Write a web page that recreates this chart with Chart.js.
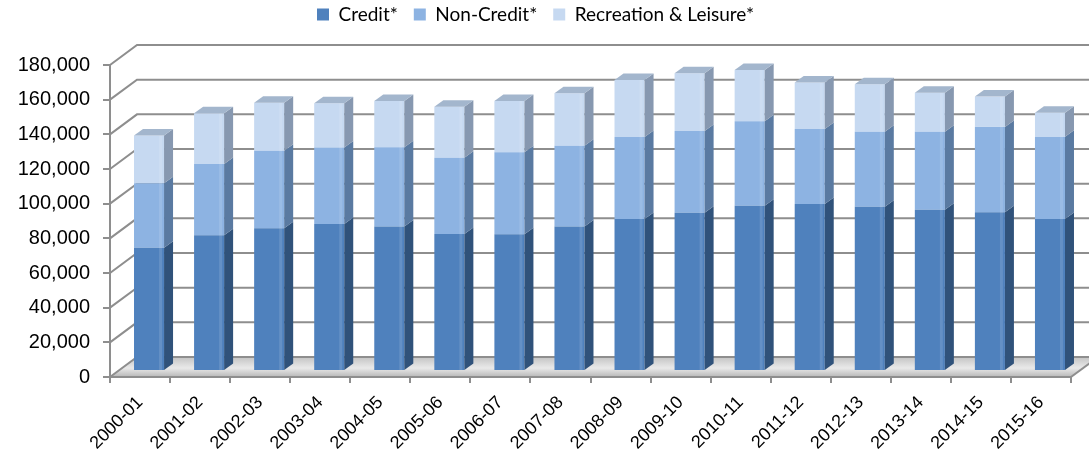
<!DOCTYPE html>
<html>
<head>
<meta charset="utf-8">
<script src="https://cdn.jsdelivr.net/npm/chart.js@4.4.1/dist/chart.umd.min.js"></script>
<style>
  html, body { margin: 0; padding: 0; background: #fff; }
  #wrap { width: 1089px; height: 451px; }
</style>
</head>
<body>
<div id="wrap"><canvas id="enrollChart"></canvas></div>
<script>
// Enrollment by year
const years = ['2000-01', '2001-02', '2002-03', '2003-04', '2004-05', '2005-06', '2006-07', '2007-08',
               '2008-09', '2009-10', '2010-11', '2011-12', '2012-13', '2013-14', '2014-15', '2015-16'];
const credit     = [71100, 78300, 82300, 84800, 83300, 79100, 78900, 83300, 87700, 91300, 95400, 96400, 94800, 93100, 91600, 87700];
const nonCredit  = [37200, 41100, 44800, 44100, 45800, 44000, 47300, 46700, 47300, 47200, 48700, 43200, 43300, 45000, 49200, 47500];
const recreation = [27500, 29300, 27700, 25600, 26700, 29400, 29600, 30200, 32900, 33300, 29600, 26800, 27300, 22500, 17500, 13800];
const yTicks = [0, 20000, 40000, 60000, 80000, 100000, 120000, 140000, 160000, 180000];

// 3D look
const wallShift = { dx: 27, dy: -20 };   // back wall sits up and right of the front axis
const barShift = { dx: 9, dy: -6 };      // columns stand a bit behind the front edge
const barDepth = { dx: 9, dy: -6.5 };    // thickness of a column
const frontColors = ['#4f81bd', '#8db3e2', '#c6d9f1'];
const sideColors = ['#30527a', '#5a7aa1', '#8798b0'];
const capColor = '#a3b6cd';
const lineGrey = '#8e8e8e';

const box3d = {
    id: 'box3d',
    beforeDraw(chart) {
        const { ctx, chartArea: a, scales: { y } } = chart;
        const L = a.left, R = a.right, B = a.bottom;
        ctx.save();
        // floor
        const g = ctx.createLinearGradient(0, B + wallShift.dy, 0, B);
        g.addColorStop(0, '#c4c4c4');
        g.addColorStop(0.55, '#e9e9e9');
        g.addColorStop(1, '#b8b8b8');
        ctx.fillStyle = g;
        ctx.beginPath();
        ctx.moveTo(L, B);
        ctx.lineTo(R, B);
        ctx.lineTo(R + wallShift.dx, B + wallShift.dy);
        ctx.lineTo(L + wallShift.dx, B + wallShift.dy);
        ctx.closePath();
        ctx.fill();
        // side wall diagonals + back wall gridlines
        ctx.strokeStyle = lineGrey;
        ctx.lineWidth = 2;
        yTicks.forEach(v => {
            const py = y.getPixelForValue(v);
            ctx.beginPath();
            ctx.moveTo(L, py);
            ctx.lineTo(L + wallShift.dx, py + wallShift.dy);
            ctx.lineTo(R + wallShift.dx, py + wallShift.dy);
            ctx.stroke();
        });
        ctx.beginPath();
        ctx.moveTo(R, B);
        ctx.lineTo(R + wallShift.dx, B + wallShift.dy);
        ctx.stroke();
        ctx.restore();
    },
    beforeDatasetsDraw(chart) {
        chart.ctx.save();
        chart.ctx.translate(barShift.dx, barShift.dy);
    },
    afterDatasetsDraw(chart) {
        const ctx = chart.ctx;
        const last = chart.data.datasets.length - 1;
        chart.data.datasets.forEach((ds, i) => {
            chart.getDatasetMeta(i).data.forEach(bar => {
                const { x, y, base, width } = bar.getProps(['x', 'y', 'base', 'width'], true);
                const left = x - width / 2;
                const right = x + width / 2;
                // side face
                ctx.fillStyle = sideColors[i];
                ctx.beginPath();
                ctx.moveTo(right, base);
                ctx.lineTo(right, y);
                ctx.lineTo(right + barDepth.dx, y + barDepth.dy);
                ctx.lineTo(right + barDepth.dx, base + barDepth.dy);
                ctx.closePath();
                ctx.fill();
                // light strip near the right edge of the front face
                ctx.fillStyle = 'rgba(255,255,255,0.12)';
                ctx.fillRect(right - 5, y, 3, base - y);
                // top cap on the highest segment
                if (i === last) {
                    ctx.fillStyle = capColor;
                    ctx.beginPath();
                    ctx.moveTo(left, y);
                    ctx.lineTo(right, y);
                    ctx.lineTo(right + barDepth.dx, y + barDepth.dy);
                    ctx.lineTo(left + barDepth.dx, y + barDepth.dy);
                    ctx.closePath();
                    ctx.fill();
                }
            });
        });
        ctx.restore();
    }
};

const axisFont = { family: "'Liberation Sans', Arial, sans-serif" };

new Chart(document.getElementById('enrollChart'), {
    type: 'bar',
    data: {
        labels: years,
        datasets: [
            { label: 'Credit*', data: credit, backgroundColor: frontColors[0] },
            { label: 'Non-Credit*', data: nonCredit, backgroundColor: frontColors[1] },
            { label: 'Recreation & Leisure*', data: recreation, backgroundColor: frontColors[2] }
        ]
    },
    options: {
        responsive: true,
        maintainAspectRatio: false,
        devicePixelRatio: 1,
        animation: false,
        layout: { padding: { top: -11, right: 18, bottom: 0, left: 0 } },
        datasets: {
            bar: { categoryPercentage: 1, barPercentage: 0.5, borderWidth: 0, inflateAmount: 0 }
        },
        plugins: {
            legend: {
                position: 'top',
                labels: {
                    font: { family: 'Lato, sans-serif', size: 19 },
                    color: '#000',
                    boxWidth: 12,
                    boxHeight: 12,
                    padding: 16
                }
            },
            // empty title used as a spacer between the legend and the plot
            title: { display: true, text: '', weight: 500, padding: 0, font: { size: 31, lineHeight: 1 } },
            tooltip: { enabled: false }
        },
        scales: {
            x: {
                stacked: true,
                ticks: {
                    autoSkip: false,
                    maxRotation: 45,
                    minRotation: 45,
                    color: '#000',
                    padding: 9,
                    font: { ...axisFont, size: 18 }
                },
                grid: { offset: true, drawOnChartArea: false, tickLength: 6, color: lineGrey, lineWidth: 2 },
                border: { display: true, color: lineGrey, width: 2 },
                afterFit(scale) { scale.height = 74; }
            },
            y: {
                stacked: true,
                min: 0,
                max: 180000,
                ticks: {
                    stepSize: 20000,
                    color: '#000',
                    padding: 13,
                    font: { ...axisFont, size: 20 },
                    callback: v => v.toLocaleString('en-US')
                },
                grid: { drawOnChartArea: false, tickLength: 7, color: lineGrey, lineWidth: 2 },
                border: { display: true, color: lineGrey, width: 2 },
                afterFit(scale) { scale.width = 110; }
            }
        }
    },
    plugins: [box3d]
});
</script>
</body>
</html>
